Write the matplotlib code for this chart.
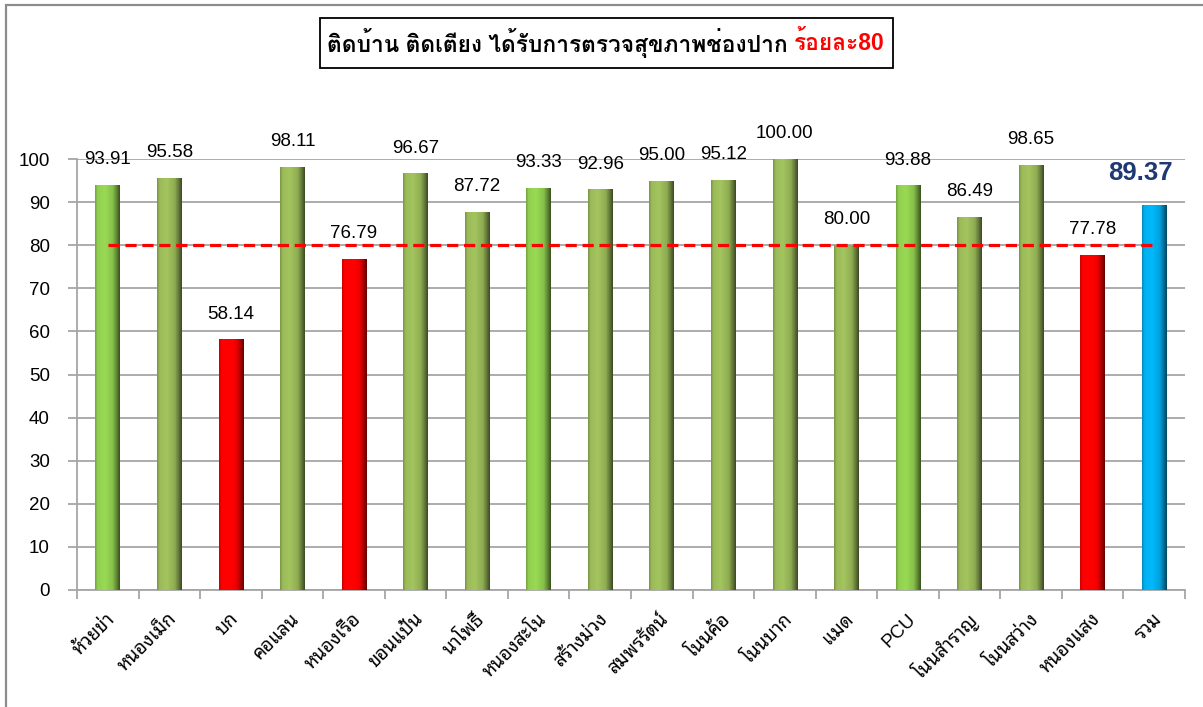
import numpy as np
import matplotlib
matplotlib.use("Agg")
import matplotlib.pyplot as plt
import matplotlib.colors as mcolors
import matplotlib.transforms as mtrans
from matplotlib.patches import Rectangle

plt.rcParams['font.family'] = ['Liberation Sans', 'Noto Sans Thai Looped']

categories = ['ห้วยข่า', 'หนองเม็ก', 'บก', 'คอแลน', 'หนองเรือ', 'ขอนแป้น', 'นาโพธิ์',
              'หนองสะโน', 'สร้างม่วง', 'สมพรรัตน์', 'โนนค้อ', 'โนนบาก', 'แมด', 'PCU',
              'โนนสำราญ', 'โนนสว่าง', 'หนองแสง', 'รวม']
values = [93.91, 95.58, 58.14, 98.11, 76.79, 96.67, 87.72, 93.33, 92.96, 95.00,
          95.12, 100.00, 80.00, 93.88, 86.49, 98.65, 77.78, 89.37]
target = 80
yticks = [0, 10, 20, 30, 40, 50, 60, 70, 80, 90, 100]
title_main = 'ติดบ้าน ติดเตียง ได้รับการตรวจสุขภาพช่องปาก '
title_red = 'ร้อยละ80'

# bar styles
LIGHT = '#92D050'
OLIVE = '#9BBB59'
RED = '#FF0000'
BLUE = '#00B0F0'
bar_colors = [LIGHT, OLIVE, RED, OLIVE, RED, OLIVE, OLIVE, LIGHT, OLIVE, OLIVE,
              OLIVE, OLIVE, OLIVE, LIGHT, OLIVE, OLIVE, RED, BLUE]

W, H = 1203, 707
fig = plt.figure(figsize=(W / 100, H / 100), dpi=100)
ax = fig.add_axes([77 / W, (H - 590) / H, (1185 - 77) / W, (590 - 159) / H])

x = np.arange(len(categories))
bars = ax.bar(x, values, width=0.4, color='none', edgecolor='none', zorder=3)

# shaded (bevel-like) fill for each bar
t = np.linspace(0, 1, 40)
shade = np.interp(t, [0, 0.1, 0.4, 0.72, 0.9, 1], [0.8, 1.0, 1.05, 0.92, 0.6, 0.4])
for b, c in zip(bars, bar_colors):
    rgb = np.array(mcolors.to_rgb(c))
    img = np.clip(shade[:, None] * rgb[None, :], 0, 1)[None, :, :]
    x0 = b.get_x()
    im = ax.imshow(img, extent=(x0, x0 + b.get_width(), 0, b.get_height()),
                   aspect='auto', zorder=3, interpolation='bilinear')
    im.set_clip_path(b)

# target line
ax.plot([x[0], x[-1]], [target, target], color='#FF0000', lw=2.3,
        ls=(0, (3.5, 1.8)), zorder=4)

# value labels
for i, v in enumerate(values[:-1]):
    ax.annotate('%.2f' % v, (x[i], v), xytext=(0, 15), textcoords='offset points',
                ha='center', va='baseline', fontsize=13.5, color='black', zorder=5)
ax.annotate('%.2f' % values[-1], (x[-1], values[-1]), xytext=(-10, 18),
            textcoords='offset points', ha='center', va='baseline',
            fontsize=18.5, fontweight='bold', color='#1F3A73', zorder=5)

ax.set_xlim(-0.5, len(categories) - 0.5)
ax.set_ylim(0, 100)
ax.set_yticks(yticks)
ax.yaxis.grid(True, color='#A6A6A6', lw=1.3, zorder=0)
ax.set_axisbelow(True)
for s in ['top', 'right']:
    ax.spines[s].set_visible(False)
for s in ['left', 'bottom']:
    ax.spines[s].set_color('#A6A6A6')
    ax.spines[s].set_linewidth(1.3)
ax.tick_params(axis='y', length=6.5, width=1.3, color='#A6A6A6', pad=13,
               labelsize=13.5)
ax.set_xticks(x)
ax.set_xticklabels(categories, rotation=45, ha='right', rotation_mode='anchor',
                   fontsize=13.5)
ax.tick_params(axis='x', which='major', length=0, pad=19)
ax.set_xticks(np.arange(len(categories) + 1) - 0.5, minor=True)
ax.tick_params(axis='x', which='minor', length=6.5, width=1.3, color='#A6A6A6')
shift = mtrans.ScaledTranslation(5 / 100, 0, fig.dpi_scale_trans)
for lab in ax.get_xticklabels():
    lab.set_va('center')
    lab.set_transform(lab.get_transform() + shift)

# title with box
title_font = ['Liberation Sans', 'Loma', 'Noto Sans Thai Looped']
fig.canvas.draw()
r = fig.canvas.get_renderer()
tx = fig.text(327 / W, 1 - 43 / H, title_main, fontsize=16.4, fontweight='bold',
              family=title_font, ha='left', va='center')
bb = tx.get_window_extent(r)
tr = fig.text(bb.x1 / W, 1 - 43 / H, title_red, fontsize=16.4, fontweight='bold',
              family=title_font, color='#FF0000', ha='left', va='center')
fig.patches.append(Rectangle((320 / W, 1 - 68 / H), (893 - 320) / W, 50 / H,
                             transform=fig.transFigure, fill=False,
                             edgecolor='black', lw=1.3))

# outer border (left and top visible)
fig.patches.append(Rectangle((6 / W, -0.1), 1.2, 1.1 - 5 / H,
                             transform=fig.transFigure, fill=False,
                             edgecolor='#8C8C8C', lw=1.6))

fig.savefig('out.png', dpi=100)
